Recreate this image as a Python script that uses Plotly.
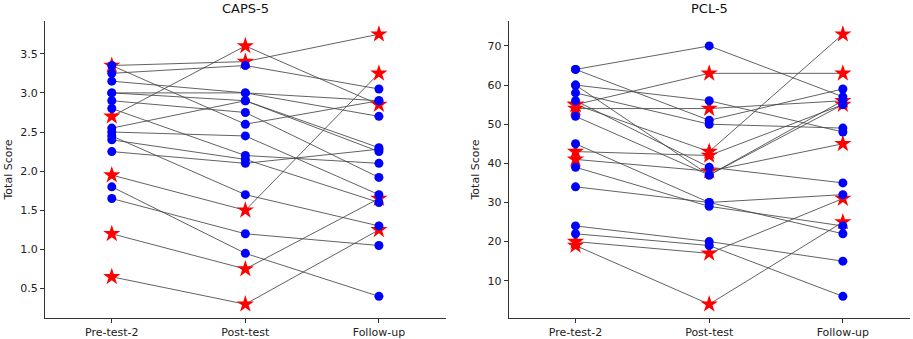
import plotly.graph_objects as go

phases = ["Pre-test-2", "Post-test", "Follow-up"]

# CAPS-5 (per subject: pre, post, follow-up); star flag marks red-star subjects
caps_pre  = [3.35, 3.25, 3.15, 3.00, 3.00, 2.90, 2.80, 2.55, 2.50, 2.45, 2.40, 2.25, 1.80, 1.65, 3.35, 2.70, 1.95, 1.20, 0.65]
caps_post = [2.60, 3.35, 3.00, 3.00, 2.90, 2.75, 2.20, 2.90, 2.45, 1.70, 2.15, 2.10, 0.95, 1.20, 3.40, 3.60, 1.50, 0.75, 0.30]
caps_fu   = [2.90, 3.05, 2.90, 2.70, 2.30, 1.92, 2.10, 2.25, 1.70, 1.30, 1.60, 2.28, 0.40, 1.05, 3.75, 2.85, 3.25, 1.65, 1.25]
caps_star = [0] * 14 + [1] * 5

# PCL-5
pcl_pre  = [64, 64, 60, 60, 58, 56, 52, 45, 39, 34, 24, 22, 55, 54, 43, 41, 20, 19, 55]
pcl_post = [70, 51, 56, 37, 50, 39, 37, 30, 29, 30, 20, 19, 63, 54, 42, 38, 17, 4, 43]
pcl_fu   = [57, 59, 48, 56, 49, 35, 55, 22, 24, 32, 15, 6, 63, 56, 55, 45, 31, 25, 73]
pcl_star = [0] * 12 + [1] * 7

caps_ticks = [0.5, 1.0, 1.5, 2.0, 2.5, 3.0, 3.5]
pcl_ticks = [10, 20, 30, 40, 50, 60, 70]

FONT = "DejaVu Sans"
fig = go.Figure()


def add_panel(pre, post, fu, star, xa, ya):
    lx, ly = [], []
    for a, b, c in zip(pre, post, fu):
        lx += phases + [None]
        ly += [a, b, c, None]
    fig.add_trace(go.Scatter(x=lx, y=ly, mode="lines", xaxis=xa, yaxis=ya,
                             line=dict(color="rgba(70,70,70,0.85)", width=1),
                             hoverinfo="skip", showlegend=False))
    for flag, sym, col, size in [(1, "star", "#ff0000", 13), (0, "circle", "#0000ff", 9)]:
        px, py = [], []
        for a, b, c, s in zip(pre, post, fu, star):
            if s == flag:
                px += phases
                py += [a, b, c]
        fig.add_trace(go.Scatter(x=px, y=py, mode="markers", xaxis=xa, yaxis=ya,
                                 marker=dict(symbol=sym, color=col, size=size,
                                             line=dict(width=0)),
                                 showlegend=False))


add_panel(caps_pre, caps_post, caps_fu, caps_star, "x", "y")
add_panel(pcl_pre, pcl_post, pcl_fu, pcl_star, "x2", "y2")

W, H = 913, 339
axis_common = dict(showgrid=False, zeroline=False, showline=True, linecolor="#333333",
                   linewidth=1, ticks="outside", ticklen=4, tickcolor="#333333",
                   tickfont=dict(family=FONT, size=11, color="#222222"), automargin=False)

ydom = [1 - 317.7 / H, 1 - 20.7 / H]
fig.update_layout(
    width=W, height=H, margin=dict(l=0, r=0, t=0, b=0),
    paper_bgcolor="white", plot_bgcolor="white",
    xaxis=dict(domain=[45 / W, 445.7 / W], type="category", range=[-0.5, 2.5],
               categoryorder="array", categoryarray=phases, anchor="y", **axis_common),
    yaxis=dict(domain=ydom, range=[0.1275, 3.9225], tickvals=caps_ticks,
               ticktext=[f"{t:.1f}" for t in caps_ticks], anchor="x", **axis_common),
    xaxis2=dict(domain=[508.7 / W, 909.7 / W], type="category", range=[-0.5, 2.5],
                categoryorder="array", categoryarray=phases, anchor="y2", **axis_common),
    yaxis2=dict(domain=ydom, range=[0.55, 76.45], tickvals=pcl_ticks,
                ticktext=[str(t) for t in pcl_ticks], anchor="x2", **axis_common),
    annotations=[
        dict(text="CAPS-5", x=245 / W, y=1 - 8 / H, xref="paper", yref="paper",
             xanchor="center", yanchor="middle",
             showarrow=False, font=dict(family=FONT, size=13, color="#111111")),
        dict(text="PCL-5", x=709 / W, y=1 - 8 / H, xref="paper", yref="paper",
             xanchor="center", yanchor="middle",
             showarrow=False, font=dict(family=FONT, size=13, color="#111111")),
        dict(text="Total Score", x=7.5 / W, y=1 - 170 / H, xref="paper", yref="paper",
             xanchor="center", yanchor="middle",
             showarrow=False, textangle=-90,
             font=dict(family=FONT, size=11, color="#222222")),
        dict(text="Total Score", x=474.5 / W, y=1 - 170 / H, xref="paper", yref="paper",
             xanchor="center", yanchor="middle",
             showarrow=False, textangle=-90,
             font=dict(family=FONT, size=11, color="#222222")),
    ],
)

fig.write_html("out.html", config={"displayModeBar": False},
               post_script="document.body.style.margin='0';document.body.style.overflow='hidden';")
